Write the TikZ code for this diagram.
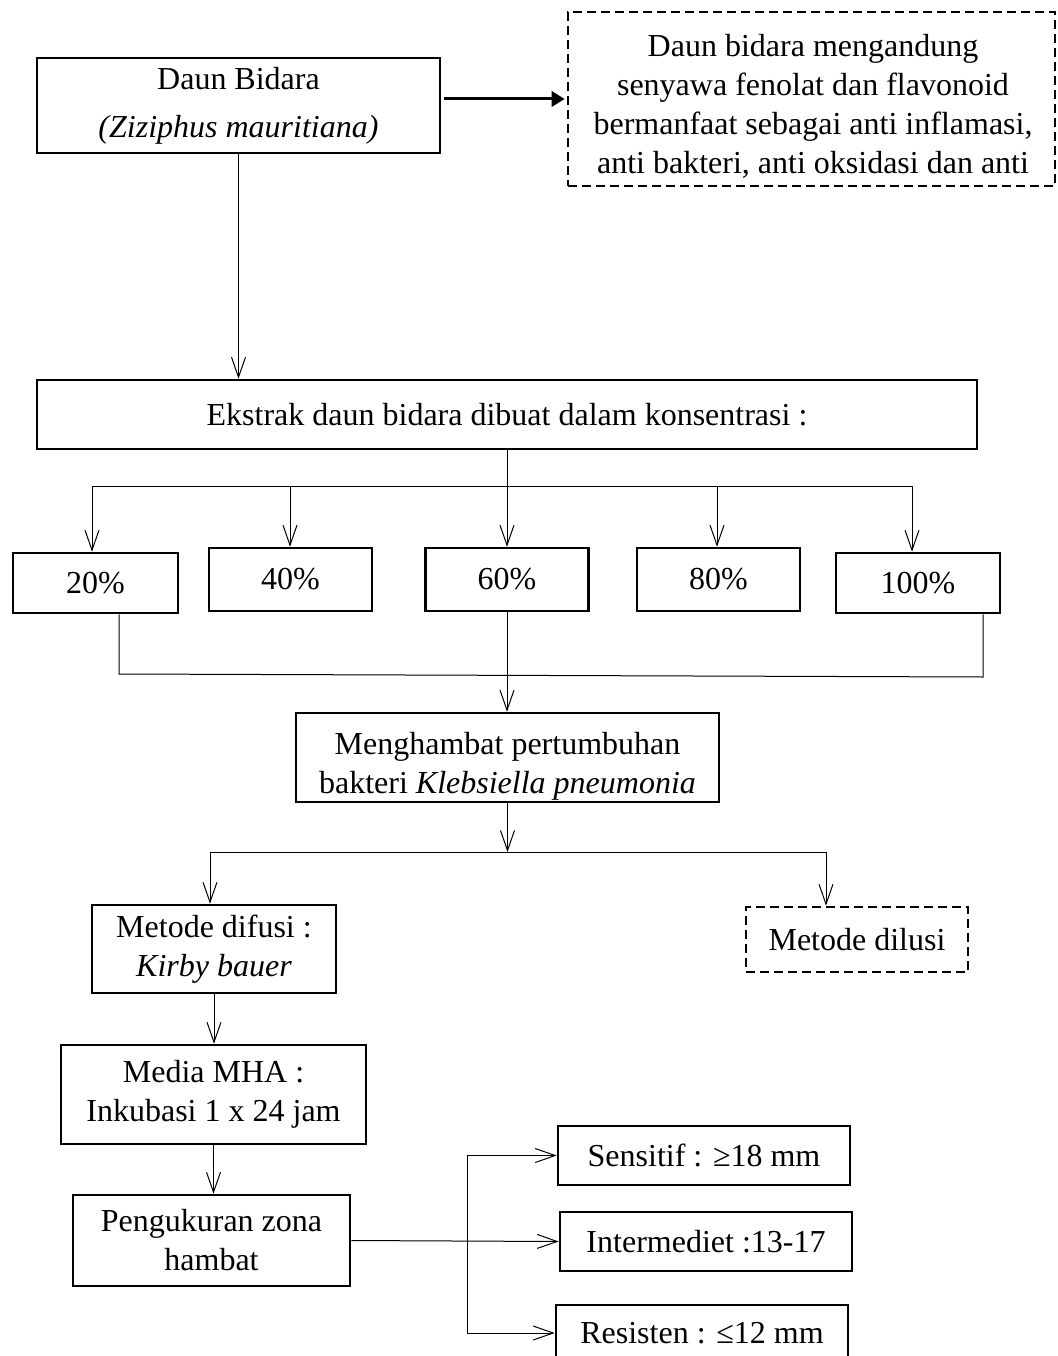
\documentclass[tikz,border=0pt]{standalone}
\usepackage{fontspec}
\setmainfont{Liberation Serif}
\usetikzlibrary{arrows.meta}
\newcommand{\fsz}{\fontsize{32}{39}\selectfont}
\tikzset{
  box/.style={draw, line width=2.6pt, inner sep=0pt, align=center, font=\fsz},
  dbox/.style={box, dash pattern=on 9pt off 5pt},
  txt/.style={inner sep=0pt, align=center, font=\fsz},
  wire/.style={line width=1pt},
  conn/.style={line width=1pt, -{Straight Barb[length=20pt,width=14pt]}},
  thickarr/.style={line width=3pt, -{Triangle[length=13pt,width=15pt]}},
}
\begin{document}
\begin{tikzpicture}[x=1pt,y=-1pt]
\useasboundingbox (0,0) rectangle (1057,1356);
\clip (0,0) rectangle (1057,1356);
% nodes
\node[box, minimum width=403pt, minimum height=95pt] (daun) at (238.5,105.5) {Daun Bidara\\[9pt]\textit{(Ziziphus mauritiana)}};
\node[dbox, minimum width=487pt, minimum height=174pt] (info) at (811.5,99) {};
\node[txt] (infotxt) at (813,106) {Daun bidara mengandung\\senyawa fenolat dan flavonoid\\bermanfaat sebagai anti inflamasi,\\anti bakteri, anti oksidasi dan anti};
\node[box, minimum width=940pt, minimum height=69pt] (ekstrak) at (507,414.5) {Ekstrak daun bidara dibuat dalam konsentrasi :};
\node[box, minimum width=165pt, minimum height=60pt] (p20) at (95.5,583) {20\%};
\node[box, minimum width=163pt, minimum height=63pt] (p40) at (290.5,579.5) {40\%};
\node[box, minimum width=163pt, minimum height=63pt] (p60) at (507,579.5) {60\%};
\node[box, minimum width=163pt, minimum height=63pt] (p80) at (718.5,579.5) {80\%};
\node[box, minimum width=164pt, minimum height=60pt] (p100) at (918,583) {100\%};
\node[box, minimum width=423pt, minimum height=89pt] (meng) at (507.5,757.5) {};
\node[txt] (mengtxt) at (507.5,766) {Menghambat pertumbuhan\\bakteri \textit{Klebsiella pneumonia}};
\node[box, minimum width=244pt, minimum height=88pt] (difusi) at (214,949) {Metode difusi :\\ \textit{Kirby bauer}};
\node[dbox, minimum width=222pt, minimum height=65pt] (dilusi) at (857,939.5) {Metode dilusi};
\node[box, minimum width=305pt, minimum height=99pt] (media) at (213.5,1094.5) {Media MHA :\\Inkubasi 1 x 24 jam};
\node[box, minimum width=277pt, minimum height=91pt] (peng) at (211.5,1240.5) {Pengukuran zona\\hambat};
\node[box, minimum width=292pt, minimum height=59pt] (sens) at (704,1155.5) {Sensitif : ≥18 mm};
\node[box, minimum width=292pt, minimum height=59pt] (inter) at (706,1241.5) {Intermediet :13-17};
\node[box, minimum width=292pt, minimum height=56pt] (resis) at (702,1333) {Resisten : ≤12 mm};
% coordinates
\coordinate (b20) at (92,486);
\coordinate (b40) at (290,486);
\coordinate (b80) at (717,486);
\coordinate (b100) at (912,486);
\coordinate (c20) at (119,674);
\coordinate (c100) at (983,677);
\coordinate (dl) at (210,852);
\coordinate (dr) at (826,852);
\coordinate (jx) at (467,0);
% connectors
\draw[thickarr, shorten <=3pt, shorten >=2pt] (daun.east |- info.west) -- (info.west);
\draw[conn] (daun.south) -- (daun.south |- ekstrak.north);
\draw[wire] (b20) -- (b100);
\draw[conn] (ekstrak.south) -- (ekstrak.south |- p60.north);
\draw[conn] (b20) -- (b20 |- p20.north);
\draw[conn] (b40) -- (b40 |- p40.north);
\draw[conn] (b80) -- (b80 |- p80.north);
\draw[conn] (b100) -- (b100 |- p100.north);
\draw[wire] (c20 |- p20.south) -- (c20) -- (c100) -- (c100 |- p100.south);
\draw[conn] (p60.south) -- (p60.south |- meng.north);
\draw[conn] (meng.south) -- (meng.south |- dl);
\draw[wire] (dl) -- (dr);
\draw[conn] (dl) -- (dl |- difusi.north);
\draw[conn] (dr) -- (dr |- dilusi.north);
\draw[conn] (difusi.south) -- (difusi.south |- media.north);
\draw[conn] (media.south) -- (media.south |- peng.north);
\draw[conn] (peng.east) -- (inter.west);
\draw[wire] (jx |- sens.west) -- (jx |- resis.west);
\draw[conn] (jx |- sens.west) -- (sens.west);
\draw[conn] (jx |- resis.west) -- (resis.west);
\end{tikzpicture}
\end{document}
